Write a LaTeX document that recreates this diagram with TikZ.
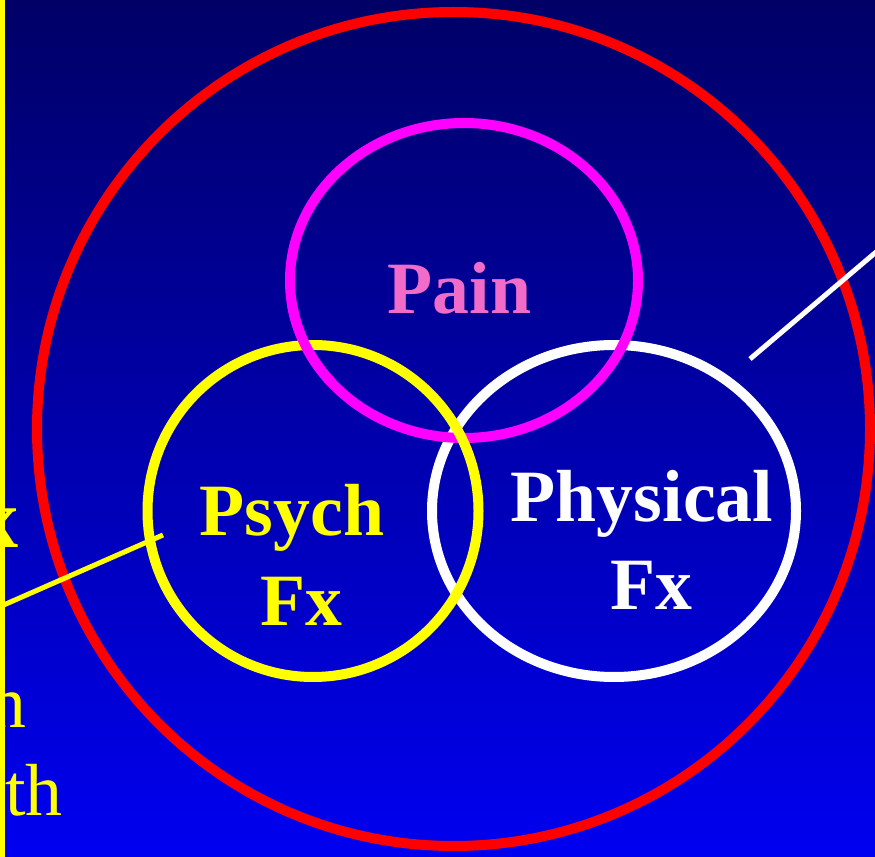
\documentclass[tikz,border=0pt]{standalone}
\usepackage{fontspec}
\setmainfont{Liberation Serif}
\usetikzlibrary{positioning,calc}
\definecolor{navytop}{RGB}{0,0,102}
\definecolor{bluebot}{RGB}{0,0,240}
\definecolor{painpink}{RGB}{240,108,200}
\definecolor{painring}{RGB}{255,0,255}
\definecolor{psychyel}{RGB}{255,255,0}
\definecolor{wholered}{RGB}{255,0,0}
\tikzset{ring/.style={line width=0.2cm},
  lbl/.style={font=\fontsize{42}{50}\selectfont\bfseries,anchor=base,inner sep=0pt},
  ptr/.style={line width=0.1cm}}

\begin{document}
\begin{tikzpicture}[x=0.02cm,y=-0.02cm,
  side/.style={font=\fontsize{42}{50}\selectfont,text=psychyel,anchor=base east,inner sep=0pt}]
\useasboundingbox (0,0) rectangle (875,857);
\shade[top color=navytop,bottom color=bluebot] (0,0) rectangle (875,857);
\begin{scope}
\clip (0,0) rectangle (875,857);
% centres of the rings
\coordinate (whole) at (453.5,429);
\coordinate (painc) at (464,280.5);
\coordinate (psychc) at (313,511);
\coordinate (physc) at (614,511);
\draw[ring,wholered] (whole) ellipse [x radius=416.5,y radius=417];
\draw[ring,white] (physc) ellipse [x radius=182,y radius=166];
\draw[ring,painring] (painc) ellipse [x radius=174,y radius=157.5];
\draw[ring,psychyel] (psychc) ellipse [x radius=165.5,y radius=166];
\draw[ring,painring] ($(painc)+(140:174 and 157.5)$) arc [start angle=140,end angle=172,x radius=174,y radius=157.5];
\node[lbl,text=painpink] (pain) at (459.5,314) {Pain};
\node[lbl,text=psychyel] (psych) at (292,536) {Psych};
\node[lbl,text=psychyel] (psychfx) at (301.5,625) {Fx};
\node[lbl,text=white] (phys) at (642,521) {Physical};
\node[lbl,text=white] (physfx) at (651,609) {Fx};
\node[side,font=\fontsize{48}{50}\selectfont\bfseries] (leftx) at (19,547) {x};
\node[side] (leftn) at (27,727) {n};
\node[side] (leftth) at (63,815) {th};
\coordinate (psychtip) at (163,535);
\coordinate (psychtail) at (-10,611);
\coordinate (physend) at (750,359);
\coordinate (physout) at (895,236);
\draw[ptr,psychyel] (psychtail) -- (psychtip);
\draw[ptr,white] (physend) -- (physout);
\end{scope}
\fill[psychyel] (0,0) rectangle (5,857);
\end{tikzpicture}
\end{document}
